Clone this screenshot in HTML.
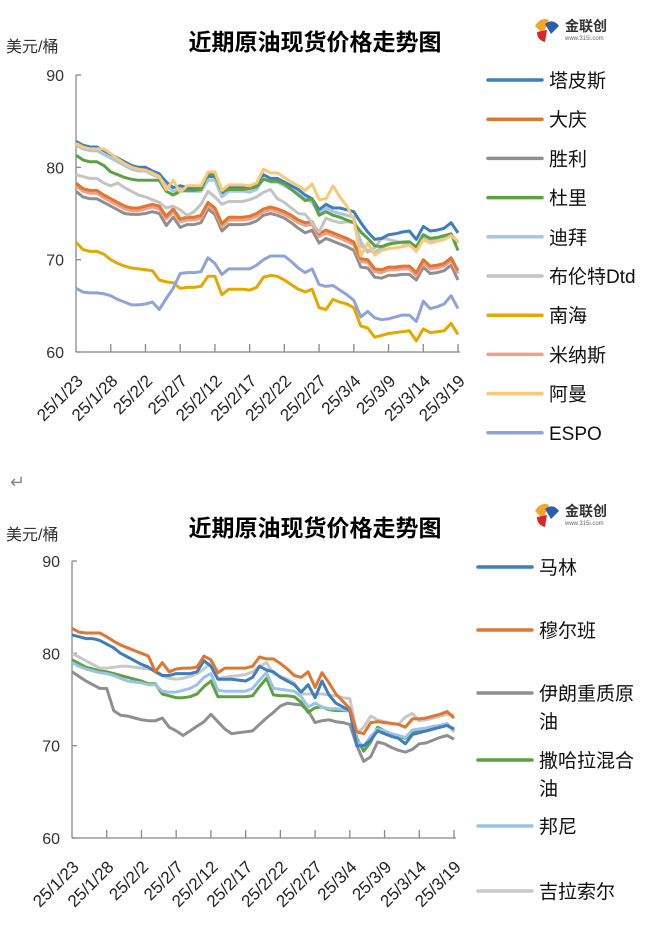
<!DOCTYPE html>
<html><head><meta charset="utf-8">
<style>
html,body{margin:0;padding:0;background:#fff;}
body{width:666px;height:934px;overflow:hidden;position:relative;font-family:"Liberation Sans","Noto Sans CJK SC",sans-serif;}
svg{position:absolute;left:0;top:0;}
</style></head>
<body>
<svg id="c" width="666" height="934" viewBox="0 0 666 934" xmlns="http://www.w3.org/2000/svg">
<text x="10" y="488" font-size="18" fill="#888">↵</text>
</svg>
<script>
const dateTicks=["25/1/23","25/1/28","25/2/2","25/2/7","25/2/12","25/2/17","25/2/22","25/2/27","25/3/4","25/3/9","25/3/14","25/3/19"];
const yTicks=[60,70,80,90];
const names1=["塔皮斯","大庆","胜利","杜里","迪拜","布伦特Dtd","南海","米纳斯","阿曼","ESPO"];
const colors1=["#3d7dc0","#e07630","#8f8f8f","#5aa340","#a6c6e8","#c4c4c4","#e4a800","#f0a088","#fcc878","#8ea3d8"];
const tapis=[82.8,82.4,82.2,82.2,81.8,81.4,81.0,80.6,80.2,80.0,80.0,79.6,79.3,78.4,77.8,78.0,77.8,77.8,77.8,79.0,79.0,77.2,77.8,77.8,77.8,77.7,78.0,79.2,78.8,78.8,78.4,78.0,77.6,77.0,76.6,75.4,76.0,75.6,75.6,75.4,75.2,74.0,73.0,72.2,72.3,72.7,72.8,73.0,73.1,72.2,73.6,73.1,73.2,73.4,74.0,72.9];
const daqing=[78.3,77.7,77.5,77.5,77.0,76.6,76.2,75.8,75.6,75.6,75.8,76.0,75.8,74.7,75.5,74.4,74.6,74.6,74.8,76.2,75.6,73.9,74.6,74.6,74.6,74.7,75.0,75.5,75.7,75.5,75.2,74.8,74.3,74.0,74.1,72.8,73.2,72.9,72.6,72.3,71.9,70.1,70.0,69.0,68.9,69.2,69.2,69.3,69.3,68.6,70.0,69.3,69.4,69.6,70.2,68.8];
const shengli=[77.4,76.8,76.6,76.6,76.2,75.8,75.4,75.0,74.9,74.9,75.0,75.2,75.0,73.7,74.6,73.5,73.8,73.8,74.0,75.5,74.9,73.1,73.8,73.8,73.8,73.9,74.2,74.8,75.0,74.8,74.5,74.0,73.4,72.9,73.2,71.8,72.3,72.0,71.7,71.4,71.0,69.2,69.1,68.1,68.0,68.3,68.3,68.4,68.4,67.8,69.2,68.5,68.6,68.8,69.4,67.8];
const duri=[81.3,80.8,80.6,80.6,80.2,79.5,79.2,78.9,78.7,78.6,78.6,78.6,78.6,77.4,77.0,77.4,77.5,77.5,77.6,79.3,79.2,77.4,77.6,77.6,77.6,77.7,77.9,78.7,78.5,78.5,78.2,77.6,77.0,76.4,76.6,74.8,75.2,74.8,74.6,74.3,74.0,73.0,72.3,71.5,71.4,71.7,71.8,71.9,71.9,71.4,72.7,72.3,72.4,72.6,72.8,71.0];
const dubai=[82.4,82.0,81.8,81.8,81.4,81.0,80.6,80.2,79.8,79.6,79.6,79.2,78.9,78.0,77.4,77.6,77.4,77.4,77.4,78.6,78.6,76.8,77.4,77.4,77.4,77.3,77.6,78.8,78.4,78.4,78.0,77.6,77.2,76.6,76.2,75.0,75.6,75.2,75.0,74.8,74.6,71.5,71.0,70.8,71.3,71.6,71.8,71.9,72.0,71.2,72.4,72.0,72.1,72.3,72.7,71.8];
const brent=[79.2,79.0,78.8,78.8,78.3,78.0,78.3,77.8,77.4,77.0,76.8,76.5,76.2,75.6,75.8,75.4,74.8,75.2,76.0,77.4,76.8,76.0,76.3,76.3,76.3,76.5,76.8,77.3,77.6,76.6,76.2,75.6,75.0,74.9,74.0,73.0,74.5,74.2,74.0,74.1,74.0,72.0,70.8,71.3,72.3,72.2,72.0,71.8,71.6,71.2,72.2,72.0,72.1,72.4,72.8,71.8];
const nanhai=[71.9,71.1,70.9,70.9,70.6,70.0,69.6,69.3,69.1,69.0,68.9,68.8,67.8,67.6,67.5,66.9,67.0,67.0,67.1,68.2,68.2,66.2,66.8,66.8,66.8,66.7,67.0,68.1,68.3,68.2,67.8,67.3,66.8,66.5,66.8,64.8,64.6,65.7,65.4,65.2,64.8,62.8,62.6,61.6,61.8,62.0,62.1,62.2,62.3,61.2,62.5,62.1,62.2,62.3,63.1,61.9];
const minas=[78.0,77.4,77.2,77.2,76.7,76.3,75.9,75.5,75.3,75.3,75.5,75.7,75.5,74.4,75.2,74.1,74.3,74.3,74.5,75.9,75.3,73.6,74.3,74.3,74.3,74.4,74.7,75.2,75.4,75.2,74.9,74.5,74.0,73.7,73.8,72.5,72.9,72.6,72.3,72.0,71.6,69.8,69.7,68.7,68.6,68.9,68.9,69.0,69.0,68.3,69.7,69.0,69.1,69.3,69.9,68.5];
const oman=[82.6,82.2,82.0,82.0,82.0,81.5,80.9,80.4,80.0,79.8,79.7,79.4,79.0,77.6,78.6,77.3,78.0,78.0,78.0,79.5,79.5,77.5,78.1,78.1,78.1,78.0,78.3,79.8,79.4,79.4,78.9,78.4,78.0,77.5,78.2,76.5,76.6,78.0,76.8,75.8,74.3,70.4,71.8,70.5,71.0,71.2,71.3,71.4,71.6,70.9,72.2,71.8,72.0,72.2,72.6,72.0];
const espo=[66.9,66.5,66.4,66.4,66.3,66.1,65.7,65.4,65.1,65.1,65.2,65.4,64.6,65.8,66.9,68.5,68.6,68.6,68.7,70.2,69.6,68.4,69.0,69.0,69.0,69.0,69.4,70.0,70.4,70.4,70.4,69.8,69.1,68.6,69.0,67.3,67.1,67.2,66.7,66.2,65.6,63.8,64.4,63.7,63.5,63.6,63.8,64.0,64.0,63.3,65.5,64.7,64.9,65.2,66.1,64.7];

const names2=["马林","穆尔班","伊朗重质原油","撒哈拉混合油","邦尼","吉拉索尔"];
const colors2=["#3d7dc0","#e07630","#8f8f8f","#5aa340","#9cc2e8","#c8c8c8"];
const marine=[82.0,81.8,81.6,81.6,81.4,81.0,80.6,80.0,79.6,79.2,78.8,78.5,78.0,77.6,77.6,77.8,77.8,77.8,78.0,79.2,78.6,77.2,77.2,77.2,77.1,77.0,77.4,78.6,78.2,78.0,77.4,77.0,76.6,75.8,76.6,75.2,77.0,75.5,74.6,74.2,73.8,70.0,70.0,70.6,71.6,71.3,71.0,70.8,70.2,71.2,71.4,71.6,71.8,72.0,72.2,71.8];
const murban=[82.7,82.3,82.2,82.2,82.2,81.8,81.3,80.9,80.6,80.3,80.0,79.7,78.0,79.0,78.0,78.3,78.4,78.4,78.5,79.7,79.3,77.9,78.4,78.4,78.4,78.4,78.6,79.6,79.4,79.4,78.9,78.3,77.6,77.4,78.0,76.3,77.9,76.8,75.6,74.8,74.0,71.5,71.3,72.5,72.6,72.5,72.4,72.3,72.0,72.9,72.9,73.0,73.2,73.4,73.7,73.0];
const iranHeavy=[78.0,77.5,77.0,76.6,76.2,76.2,73.8,73.3,73.2,73.0,72.8,72.7,72.7,73.0,72.0,71.6,71.1,71.6,72.1,72.6,73.4,72.6,71.8,71.3,71.4,71.5,71.6,72.3,73.0,73.6,74.3,74.6,74.5,74.4,73.8,72.5,72.7,72.8,72.6,72.5,72.3,70.0,68.3,68.8,70.4,70.2,69.8,69.5,69.3,69.6,70.2,70.3,70.6,70.9,71.1,70.7];
const saharan=[79.3,78.9,78.5,78.3,78.1,78.0,77.8,77.6,77.4,77.2,77.0,76.7,76.7,75.6,75.4,75.2,75.2,75.3,75.6,76.4,77.0,75.3,75.3,75.3,75.3,75.3,75.4,76.4,77.3,75.5,75.4,75.4,75.3,74.7,73.6,74.1,74.2,73.9,73.8,73.8,73.8,70.8,69.4,70.4,72.0,71.6,71.2,71.0,70.8,71.5,71.6,71.7,71.9,72.0,72.2,71.7];
const bonny=[79.0,78.6,78.3,78.1,77.9,77.8,77.6,77.3,77.0,76.9,76.8,76.6,76.6,75.9,75.8,75.8,76.0,76.2,76.6,77.4,77.8,76.0,75.9,75.9,75.9,75.9,76.2,77.1,77.9,76.2,76.1,76.0,75.9,75.3,74.2,74.6,74.2,74.0,74.0,73.9,73.8,70.5,69.9,71.0,71.8,71.6,71.3,71.1,70.9,71.7,71.8,71.9,72.1,72.2,72.4,71.5];
const girassol=[80.0,79.6,79.2,78.8,78.4,78.4,78.5,78.6,78.6,78.5,78.4,78.3,78.2,77.6,77.3,77.2,77.3,77.5,77.8,78.3,79.0,77.3,77.4,77.5,77.6,77.7,78.0,78.6,79.0,77.8,77.5,77.2,76.8,75.6,75.6,75.6,75.6,75.5,75.4,75.2,75.1,71.3,72.0,73.2,72.8,72.6,72.4,72.3,73.1,73.5,72.7,72.8,73.0,73.2,73.4,73.3];

const series1=[tapis,daqing,shengli,duri,dubai,brent,nanhai,minas,oman,espo];
const series2=[marine,murban,iranHeavy,saharan,bonny,girassol];
const order1=[6,9,2,7,1,5,0,4,3,8];
const order2=[2,3,4,5,0,1];

const NS="http://www.w3.org/2000/svg";
const svg=document.getElementById('c');
function mk(tag,attrs,parent,text){const e=document.createElementNS(NS,tag);for(const k in attrs)e.setAttribute(k,attrs[k]);if(text!==undefined)e.textContent=text;(parent||svg).appendChild(e);return e;}

function drawChart(cfg,series,names,colors,order,legendItems){
  const g=mk('g',{});
  
  
  const n=series[0].length;
  const xs=i=>cfg.x0+i*(cfg.x1-cfg.x0)/(n-1);
  const ys=v=>cfg.yTop+(90-v)*(cfg.yBot-cfg.yTop)/30;
  const t=mk('text',{x:cfg.titleX,y:cfg.titleY,'font-size':23,'font-weight':'bold','text-anchor':'middle',fill:'#000'},g,'近期原油现货价格走势图');
  
  
  const u=mk('text',{x:6,y:cfg.unitY,'font-size':16,fill:'#333'},g,'美元/桶');
  
  
  const lg=mk('g',{},g);
  
  
  const lx=cfg.logoX,ly=cfg.logoY;
  mk('path',{d:`M${lx} ${ly+6} q6 -10 14 -6 l-6 14 z`,fill:'#f5a623'},lg);
  mk('path',{d:`M${lx+10} ${ly+4} q8 -6 14 2 l-8 8 z`,fill:'#2a5db0'},lg);
  mk('path',{d:`M${lx+2} ${ly+12} l10 -2 l-2 12 q-8 -2 -8 -10 z`,fill:'#d8262e'},lg);
  mk('text',{x:lx+30,y:ly+11,'font-size':14,'font-weight':'bold',fill:'#333'},lg,'金联创');
  mk('text',{x:lx+30,y:ly+20,'font-size':6,fill:'#666'},lg,'www.315i.com');
  const ya=mk('line',{x1:cfg.x0,y1:cfg.yTop,x2:cfg.x0,y2:cfg.yBot,stroke:'#888','stroke-width':1.3},g);
  
  
  const xa=mk('line',{x1:cfg.x0,y1:cfg.yBot,x2:cfg.x1+2,y2:cfg.yBot,stroke:'#888','stroke-width':1.3},g);
  
  
  yTicks.forEach(v=>{
    mk('line',{x1:cfg.x0,y1:ys(v),x2:cfg.x0+5,y2:ys(v),stroke:'#888','stroke-width':1.3},g);
    const tl=mk('text',{x:cfg.x0-12,y:ys(v)+6,'font-size':16,'text-anchor':'end',fill:'#333'},g,String(v));
    
    
  });
  dateTicks.forEach((d,k)=>{
    const x=xs(k*5);
    if(k>0) mk('line',{x1:x,y1:cfg.yBot,x2:x,y2:cfg.yBot-8,stroke:'#888','stroke-width':1.3},g);
    const ax=x+8, ay=cfg.yBot+30;
    const tl=mk('text',{x:ax,y:ay,'font-size':17,'text-anchor':'end',fill:'#222',transform:`rotate(-45 ${ax} ${ay})`},g,d);
    
    
  });
  order.forEach(si=>{
    const pts=series[si].map((v,i)=>xs(i).toFixed(1)+','+ys(v).toFixed(1)).join(' ');
    const pl=mk('polyline',{points:pts,fill:'none',stroke:colors[si],'stroke-width':3,'stroke-linejoin':'round'},g);
    
    
  });
  legendItems.forEach((it,k)=>{
    const le=mk('g',{},g);
    
    
    mk('line',{x1:cfg.legX,y1:it.y,x2:cfg.legX+54,y2:it.y,stroke:colors[k],'stroke-width':3.5,'stroke-linecap':'round'},le);
    it.lines.forEach((ln,j)=>{
      mk('text',{x:cfg.legX+61,y:it.y+7+j*28,'font-size':19,fill:'#111'},le,ln);
    });
  });
}

const cfg1={id:'chart-1',x0:76,x1:458,yTop:75,yBot:352,titleX:315,titleY:50,unitY:52,logoX:535,logoY:20,legX:488};
const leg1=names1.map((nm,k)=>({y:80+k*39.2,lines:[nm]}));
drawChart(cfg1,series1,names1,colors1,order1,leg1);

const cfg2={id:'chart-2',x0:72,x1:454,yTop:561,yBot:838,titleX:315,titleY:536,unitY:540,logoX:535,logoY:505,legX:478};
const leg2=[{y:567,lines:['马林']},{y:630,lines:['穆尔班']},{y:693,lines:['伊朗重质原','油']},{y:760,lines:['撒哈拉混合','油']},{y:826,lines:['邦尼']},{y:891,lines:['吉拉索尔']}];
drawChart(cfg2,series2,names2,colors2,order2,leg2);
</script>
</body></html>
